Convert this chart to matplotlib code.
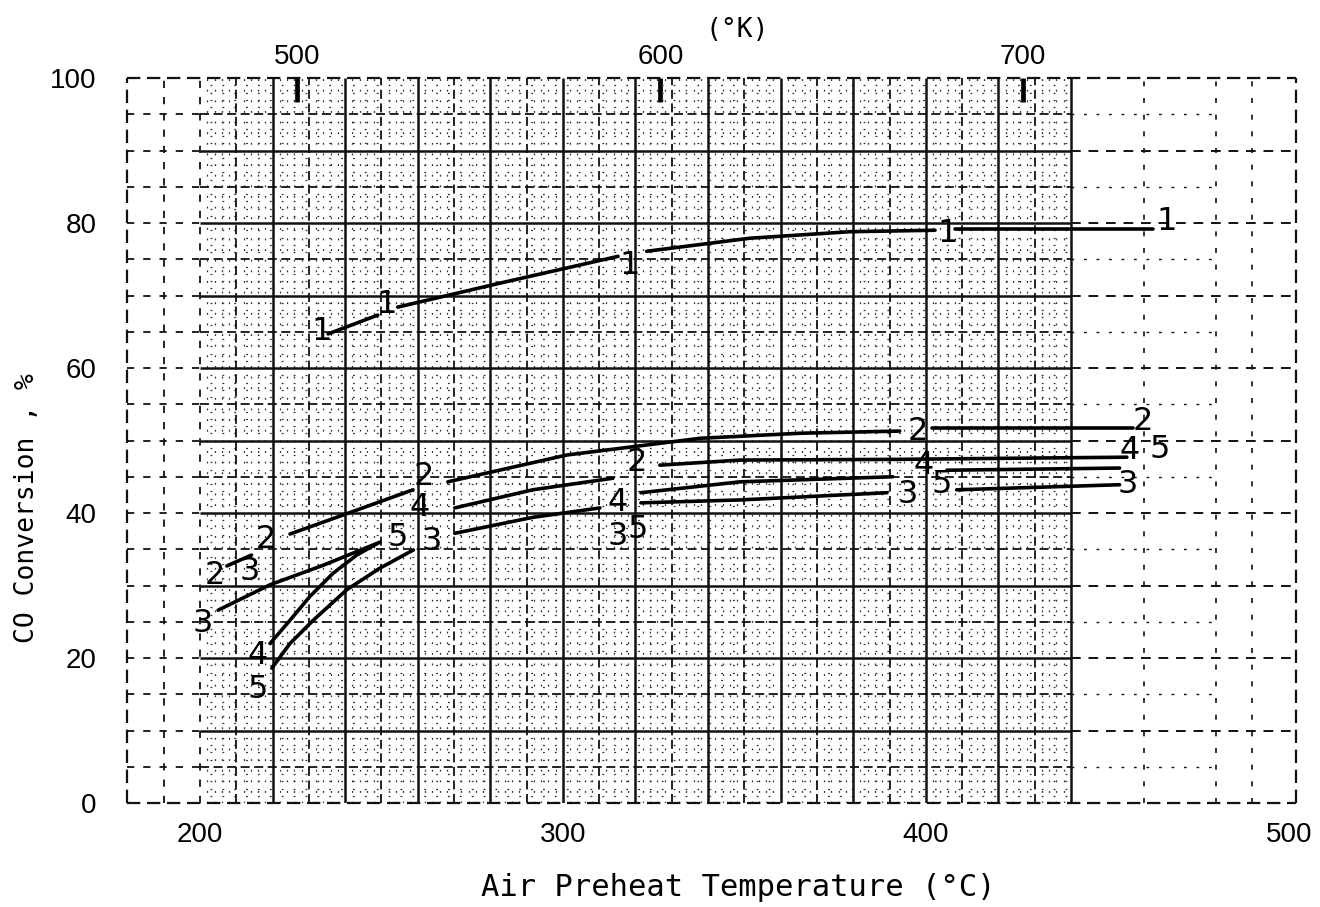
import numpy as np
import matplotlib
matplotlib.use("Agg")
import matplotlib.pyplot as plt

# ---------------------------------------------------------------------------
# CO conversion (%) against air preheat temperature (deg C).
# Each curve is drawn as strokes that stop short of the numbered data marks.
# ---------------------------------------------------------------------------
c1_T = [[235.3, 249.0], [254.5, 282.6, 315.2], [323.1, 351.5, 379.1, 402.5], [408.0, 462.5]]
c1_Y = [[64.7, 67.3], [68.4, 71.7, 75.4], [76.1, 77.9, 78.8, 79.0], [79.2, 79.2]]
c1_mark_T = [233.6, 251.5, 318.5, 406.1, 466.4]
c1_mark_Y = [65.1, 68.7, 74.1, 78.5, 80.2]

c2_T = [[207.4, 214.2], [224.8, 240.4, 258.7], [268.3, 301.1, 337.7, 365.3, 392.8], [401.7, 457.0]]
c2_Y = [[32.7, 34.2], [37.1, 39.9, 43.2], [44.3, 48.0, 50.3, 51.0, 51.3], [51.7, 51.7]]
c2_mark_T = [204.1, 218.2, 261.7, 320.4, 397.8, 459.8]
c2_mark_Y = [31.4, 36.3, 45.0, 47.0, 51.2, 52.6]

c3_T = [[205.0, 219.3, 234.0, 248.7], [270.2, 291.7, 310.2], [321.5, 348.8, 389.3], [408.5, 453.4]]
c3_Y = [[26.6, 30.1, 32.8, 35.8], [37.2, 39.4, 40.7], [41.4, 41.8, 42.8], [43.2, 43.9]]
c3_mark_T = [200.8, 213.8, 263.9, 315.1, 395.0, 455.6]
c3_mark_Y = [24.8, 31.9, 36.1, 36.7, 42.6, 43.9]

c4_T = [[219.3, 224.8, 230.3, 236.7, 243.2, 249.6], [270.2, 291.7, 313.8], [321.5, 348.8, 390.9], [405.8, 453.4]]
c4_Y = [[22.0, 25.2, 28.5, 31.7, 34.2, 36.0], [40.7, 43.2, 44.8], [42.8, 44.3, 45.0], [45.9, 46.2]]
c4_mark_T = [216.0, 260.6, 315.1, 399.5, 456.2]
c4_mark_Y = [20.4, 40.7, 41.5, 46.6, 48.6]

c5_T = [[219.8, 224.8, 231.2, 240.4, 249.6, 258.8], [326.7, 348.8, 392.8, 455.4]]
c5_Y = [[18.6, 22.0, 25.2, 29.4, 32.4, 34.9], [46.6, 47.3, 47.4, 47.7]]
c5_mark_T = [216.0, 254.5, 320.7, 404.3, 464.5]
c5_mark_Y = [15.7, 36.6, 37.7, 43.9, 48.7]

curve_ids = ["1", "2", "3", "4", "5"]
curve_T = [c1_T, c2_T, c3_T, c4_T, c5_T]
curve_Y = [c1_Y, c2_Y, c3_Y, c4_Y, c5_Y]
mark_T = [c1_mark_T, c2_mark_T, c3_mark_T, c4_mark_T, c5_mark_T]
mark_Y = [c1_mark_Y, c2_mark_Y, c3_mark_Y, c4_mark_Y, c5_mark_Y]

x_ticks = [200, 300, 400, 500]
y_ticks = [0, 20, 40, 60, 80, 100]
kelvin_ticks = [500, 600, 700]

XMIN, XMAX = 180, 502
YMIN, YMAX = 0, 100

fig = plt.figure(figsize=(13.2, 9.07), dpi=100)
ax = fig.add_axes([127.4 / 1320, 1 - 803 / 907, (1296 - 127.4) / 1320, (803 - 78) / 907])
ax.set_xlim(XMIN, XMAX)
ax.set_ylim(YMIN, YMAX)

# --- graph-paper background -------------------------------------------------
ink = "#111111"
DENSE_END = 440

# fine ruling (2 deg / 1 %), broken into specks
fine_x = [x for x in np.arange(200, DENSE_END + 1, 2) if x % 10 != 0]
fine_y = [y for y in np.arange(1, 100, 1) if y % 5 != 0]
ax.vlines(fine_x, 0, 100, colors="0.2", lw=0.9, linestyles=(0, (1.5, 7)), zorder=1)
ax.hlines(fine_y, 200, DENSE_END, colors="0.2", lw=0.9, linestyles=(1.5, (1.5, 8)), zorder=1)

# 10 deg / 5 % ruling, dashed
ax.vlines(np.arange(210, DENSE_END, 20), 0, 100, colors=ink, lw=1.3,
          linestyles=(0, (5, 2.5)), zorder=2)
ax.hlines(np.arange(5, 100, 10), 200, DENSE_END, colors=ink, lw=1.3,
          linestyles=(0, (5, 2.5)), zorder=2)

# 20 deg / 10 % ruling, solid
ax.vlines(np.arange(220, DENSE_END + 1, 20), 0, 100, colors=ink, lw=1.8, zorder=2)
ax.hlines(np.arange(10, 100, 10), 200, DENSE_END, colors=ink, lw=1.8, zorder=2)

# sparse ruling outside the dense sheet
sparse = (0, (4, 5))
ax.vlines([190, 200], 0, 100, colors=ink, lw=1.3, linestyles=sparse, zorder=2)
ax.hlines(np.arange(5, 100, 5), XMIN, 200, colors=ink, lw=1.3, linestyles=sparse, zorder=2)
ax.vlines([460, 480, 490], 0, 100, colors=ink, lw=1.2, linestyles=(0, (3, 7)), zorder=2)
ax.hlines(np.arange(10, 100, 10), DENSE_END, XMAX, colors=ink, lw=1.4, linestyles=(0, (5, 4)), zorder=2)
ax.hlines(np.arange(5, 100, 10), DENSE_END, 480, colors=ink, lw=1.0, linestyles=(0, (2, 7)), zorder=2)

# sheet border
for s in ax.spines.values():
    s.set_visible(False)
border = (0, (6, 3))
ax.hlines([YMIN, YMAX], XMIN, XMAX, colors=ink, lw=1.6, linestyles=border, zorder=2, clip_on=False)
ax.vlines([XMIN, XMAX], YMIN, YMAX, colors=ink, lw=1.6, linestyles=border, zorder=2, clip_on=False)

# --- curves and numbered marks ---------------------------------------------
for cid, Ts, Ys, mT, mY in zip(curve_ids, curve_T, curve_Y, mark_T, mark_Y):
    for t, y in zip(Ts, Ys):
        ax.plot(t, y, color="black", lw=2.6, solid_capstyle="round", zorder=4)
    for t, y in zip(mT, mY):
        ax.text(t, y, cid, ha="center", va="center", fontsize=23,
                family="DejaVu Sans", color="black", zorder=5)

# --- axes text --------------------------------------------------------------
tick_font = {"family": "Liberation Sans", "size": 20}
ax.set_xticks(x_ticks)
ax.set_xticklabels([str(v) for v in x_ticks], fontdict=tick_font)
ax.set_yticks(y_ticks)
ax.set_yticklabels([str(v) for v in y_ticks], fontdict=tick_font)
ax.tick_params(axis="x", length=0, pad=14)
ax.tick_params(axis="y", length=0, pad=22)

top = ax.secondary_xaxis("top", functions=(lambda c: c + 273.15, lambda k: k - 273.15))
top.set_xticks(kelvin_ticks)
top.set_xticklabels([str(v) for v in kelvin_ticks], fontdict=tick_font)
top.tick_params(direction="in", length=17, width=3.4, pad=6, color="black")
top.spines["top"].set_visible(False)

mono = "DejaVu Sans Mono"
fig.text(737 / 1320, 1 - 30 / 907, "(°K)", ha="center", va="center", fontsize=19, family=mono)
fig.text(738 / 1320, 1 - 888 / 907, "Air Preheat Temperature (°C)", ha="center", va="center",
         fontsize=22, family=mono)
fig.text(27 / 1320, 1 - 508 / 907, "CO Conversion , %", ha="center", va="center",
         rotation=90, fontsize=19, family=mono)

fig.savefig("out.png", dpi=100, facecolor="white")
